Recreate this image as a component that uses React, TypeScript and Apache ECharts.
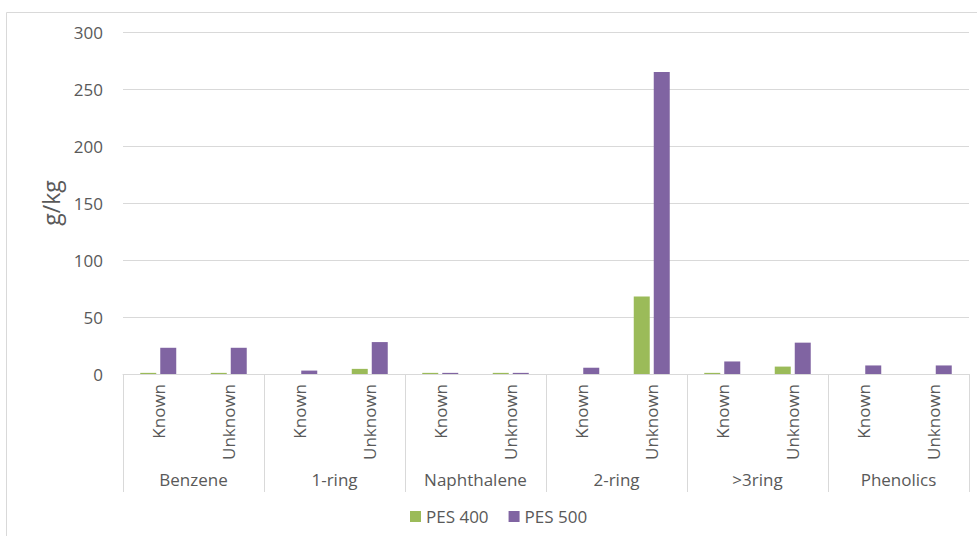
import React, { useEffect, useRef } from "react";
import * as echarts from "echarts";

// Sub-categories repeated inside each compound group
const subCategories = ["Known", "Unknown"];
const groups = ["Benzene", "1-ring", "Naphthalene", "2-ring", ">3ring", "Phenolics"];

// Values in g/kg, ordered Benzene Known, Benzene Unknown, 1-ring Known, ...
const pes400 = [1, 1, 0, 4.5, 1, 1, 0, 68, 1, 6.5, 0, 0];
const pes500 = [23, 23, 3, 28, 1, 1, 5.5, 265, 11, 27.5, 7.5, 7.5];

const yTicks = { min: 0, max: 300, interval: 50 };

const TEXT = "#595959";
const GRID_LINE = "#d9d9d9";
const FONT = "'Open Sans', sans-serif";

export default function App() {
  const ref = useRef<HTMLDivElement>(null);

  useEffect(() => {
    if (!ref.current) return;
    const chart = echarts.init(ref.current, undefined, { renderer: "svg" });

    const innerCats: string[] = [];
    groups.forEach(() => subCategories.forEach((s) => innerCats.push(s)));

    chart.setOption({
      animation: false,
      textStyle: { fontFamily: FONT, color: TEXT },
      graphic: [
        {
          type: "rect",
          shape: { x: 6.5, y: 12.5, width: 980, height: 540 },
          style: { fill: "none", stroke: GRID_LINE, lineWidth: 1 },
          silent: true,
        },
      ],
      grid: { left: 123, right: 8, top: 32, bottom: 162 },
      legend: {
        bottom: 6,
        left: 405,
        itemWidth: 11,
        itemHeight: 11,
        itemGap: 20,
        icon: "rect",
        textStyle: { fontFamily: FONT, fontSize: 17, color: TEXT },
        data: ["PES 400", "PES 500"],
      },
      xAxis: [
        {
          type: "category",
          data: innerCats,
          position: "bottom",
          axisLine: { show: true, lineStyle: { color: GRID_LINE, width: 1 } },
          axisTick: { show: false },
          axisLabel: {
            rotate: 90,
            interval: 0,
            margin: 10,
            fontFamily: FONT,
            fontSize: 17,
            color: TEXT,
          },
        },
        {
          type: "category",
          data: groups,
          position: "bottom",
          axisLine: { show: false },
          axisTick: {
            show: true,
            length: 118,
            lineStyle: { color: GRID_LINE, width: 1 },
          },
          axisLabel: {
            interval: 0,
            margin: 97,
            fontFamily: FONT,
            fontSize: 17,
            color: TEXT,
          },
        },
      ],
      yAxis: {
        type: "value",
        min: yTicks.min,
        max: yTicks.max,
        interval: yTicks.interval,
        name: "g/kg",
        nameLocation: "middle",
        nameGap: 60,
        nameTextStyle: { fontFamily: FONT, fontSize: 23, color: TEXT },
        axisLine: { show: false },
        axisTick: { show: false },
        axisLabel: { margin: 20, fontFamily: FONT, fontSize: 17, color: TEXT },
        splitLine: { lineStyle: { color: GRID_LINE, width: 1 } },
      },
      series: [
        {
          name: "PES 400",
          type: "bar",
          xAxisIndex: 0,
          data: pes400,
          barWidth: 16,
          barGap: "25%",
          itemStyle: { color: "#9BBB59" },
        },
        {
          name: "PES 500",
          type: "bar",
          xAxisIndex: 0,
          data: pes500,
          barWidth: 16,
          barGap: "25%",
          itemStyle: { color: "#8064A2" },
        },
      ],
    });

    return () => chart.dispose();
  }, []);

  return (
    <div
      ref={ref}
      style={{ position: "fixed", left: 0, top: 0, width: 977, height: 536, background: "#fff" }}
    />
  );
}
